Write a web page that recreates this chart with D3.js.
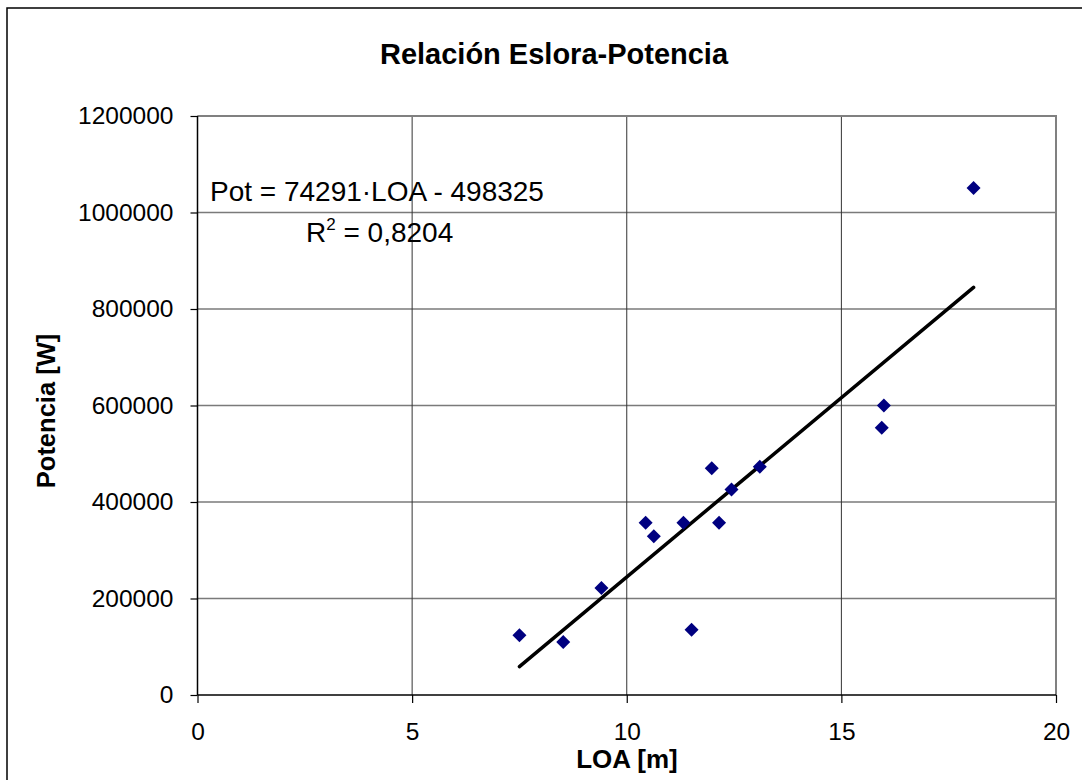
<!DOCTYPE html>
<html>
<head>
<meta charset="utf-8">
<script src="https://cdn.jsdelivr.net/npm/d3@7"></script>
<style>
  html, body { margin: 0; padding: 0; background: #fff; }
  svg { display: block; font-family: "Liberation Sans", Arial, sans-serif; }
</style>
</head>
<body>
<svg id="chart" width="1082" height="780"></svg>
<script>
const title = "Relación Eslora-Potencia";
const xLabel = "LOA [m]";
const yLabel = "Potencia [W]";
const loa = [7.5, 8.52, 9.41, 10.44, 10.63, 11.32, 11.51, 11.98, 12.15, 12.44, 13.1, 15.94, 15.99, 18.08];
const pot = [124000, 110000, 222000, 357000, 329000, 357000, 135000, 470000, 357000, 426000, 473000, 554000, 600000, 1051000];
const xTicks = [0, 5, 10, 15, 20];
const yTicks = [0, 200000, 400000, 600000, 800000, 1000000, 1200000];
const slope = 74291, intercept = -498325;
const eqText = "Pot = 74291·LOA - 498325";
const r2Value = "0,8204";

const svg = d3.select("#chart");
const x = d3.scaleLinear().domain([0, 20]).range([197.5, 1056]);
const y = d3.scaleLinear().domain([0, 1200000]).range([695, 116]);

// outer chart border
svg.append("rect").attr("x", 7).attr("y", 8).attr("width", 1100).attr("height", 800)
  .attr("fill", "#fff").attr("stroke", "#000").attr("stroke-width", 1.5);

// title
svg.append("text").attr("x", 554).attr("y", 64).attr("text-anchor", "middle")
  .attr("font-size", 29).attr("font-weight", "bold").text(title);

// grid
svg.append("g").selectAll("line").data(yTicks.slice(1)).join("line")
  .attr("x1", x(0)).attr("x2", x(20)).attr("y1", d => y(d)).attr("y2", d => y(d))
  .attr("stroke", "#7a7a7a").attr("stroke-width", 1.6);
svg.append("g").selectAll("line").data(xTicks.slice(1)).join("line")
  .attr("x1", d => x(d)).attr("x2", d => x(d)).attr("y1", y(0)).attr("y2", y(1200000))
  .attr("stroke", "#333").attr("stroke-width", 1);

// plot border top/right gray
svg.append("path")
  .attr("d", `M${x(0)},${y(1200000)}H${x(20)}V${y(0)}`)
  .attr("fill", "none").attr("stroke", "#808080").attr("stroke-width", 2);

// axes
const yAxis = d3.axisLeft(y).tickValues(yTicks).tickSize(7).tickPadding(17).tickFormat(d3.format("d"));
const xAxis = d3.axisBottom(x).tickValues(xTicks).tickSize(8).tickPadding(20).tickFormat(d3.format("d"));
const gy = svg.append("g").attr("transform", `translate(${x(0)},0)`).call(yAxis);
const gx = svg.append("g").attr("transform", `translate(0,${y(0)})`).call(xAxis);
[gx, gy].forEach(g => {
  g.select(".domain").attr("stroke", "#000").attr("stroke-width", 1.5);
  g.selectAll(".tick line").attr("stroke", "#000").attr("stroke-width", 1.2);
  g.selectAll(".tick text").attr("font-size", 24.5).attr("fill", "#000")
    .attr("font-family", "'Liberation Sans', Arial, sans-serif");
});
gx.select(".domain").attr("d", `M${x(0)},0H${x(20)}`);
gy.select(".domain").attr("d", `M0,${y(0)}V${y(1200000)}`);

// axis titles
svg.append("text").attr("x", 627).attr("y", 768).attr("text-anchor", "middle")
  .attr("font-size", 26).attr("font-weight", "bold").text(xLabel);
svg.append("text").attr("transform", "translate(55,411) rotate(-90)").attr("text-anchor", "middle")
  .attr("font-size", 25.5).attr("font-weight", "bold").text(yLabel);

// regression line
const xr = [d3.min(loa), d3.max(loa)];
svg.append("line")
  .attr("x1", x(xr[0])).attr("y1", y(slope * xr[0] + intercept))
  .attr("x2", x(xr[1])).attr("y2", y(slope * xr[1] + intercept))
  .attr("stroke", "#000").attr("stroke-width", 3.5).attr("stroke-linecap", "round");

// points
const diamond = d3.symbol().type(d3.symbolSquare).size(98);
svg.append("g").selectAll("path").data(loa.map((v, i) => [v, pot[i]])).join("path")
  .attr("d", diamond)
  .attr("transform", d => `translate(${x(d[0])},${y(d[1])}) rotate(45)`)
  .attr("fill", "#000080");

// equation
svg.append("text").attr("x", 210).attr("y", 201).attr("font-size", 28).text(eqText);
const r2 = svg.append("text").attr("x", 306).attr("y", 242).attr("font-size", 28);
r2.append("tspan").text("R");
r2.append("tspan").attr("dy", -12).attr("font-size", 17).text("2");
r2.append("tspan").attr("dy", 12).text(" = " + r2Value);
</script>
</body>
</html>
